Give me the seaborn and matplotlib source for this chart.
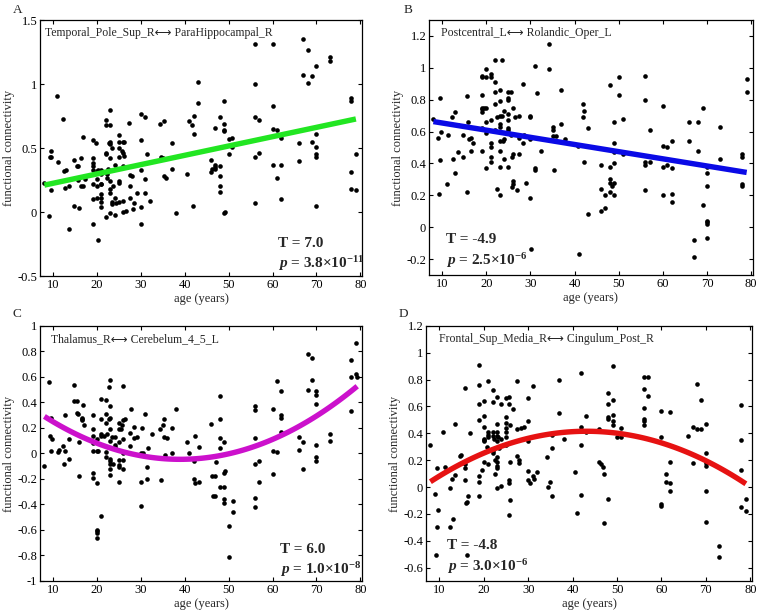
import numpy as np
import pandas as pd
import matplotlib
matplotlib.use("Agg")
import matplotlib.pyplot as plt
import seaborn as sns

# (age, functional connectivity)
pts_a = [(8, 0.23), (9, -0.03), (9.3, 0.43), (9.5, 0.43), (9.5, 0.48), (9.5, 0.17),
         (10.8, 0.91), (11, 0.39), (12.2, 0.73), (12.5, 0.32), (13, 0.33), (12.8, 0.19),
         (13.5, 0.2), (13.5, -0.13), (14.7, 0.41), (14.8, 0.05), (15.5, 0.36), (15.7, 0.36),
         (15.7, 0.25), (15.8, 0.03), (16.3, 0.42), (16.3, 0.2), (16.8, 0.2), (16.9, 0.59),
         (17.2, 0.26), (19, 0.56), (19, 0.42), (19, 0.38), (19, 0.36), (19, 0.33), (19, 0.22),
         (19, 0.1), (19, -0.09), (19.7, 0.54), (20, 0.32), (20, 0.26), (20, 0.2), (20, 0.11),
         (20.2, -0.22), (20.3, 0.33), (21, 0.33), (21, 0.3), (21, 0.22), (21, 0.14), (21, 0.11),
         (21, 0.08), (21, 0.04), (20.8, 0.22), (22, 0.72), (22, 0.68), (22, 0.46), (22, 0.45),
         (22.3, 0.3), (22.2, 0.27), (22, -0.04), (22.5, 0.34), (22.8, 0.54), (23, 0.8),
         (23, 0.68), (23, 0.55), (23, 0.53), (23, 0.42), (23, 0.24), (23, 0.18), (23, 0.15),
         (23, -0.01), (23.3, 0.5), (23.3, 0.08), (23.5, 0.06), (23.6, 0.2), (24, 0.37),
         (24, 0.11), (24, -0.02), (24.3, 0.07), (25, 0.6), (25, 0.55), (25, 0.5), (25, 0.43),
         (25, 0.24), (25, 0.23), (25, 0.08), (25.8, 0.48), (25.9, 0.55), (26, 0.46), (26, 0.36),
         (26, 0.0), (26, 0.09), (26.2, 0.55), (26.5, 0.01), (26.2, 0.44), (27.3, 0.7),
         (27.5, 0.29), (27.5, 0.2), (27.5, 0.11), (28, 0.28), (28.2, 0.02), (28.5, 0.07),
         (29, 0.15), (30, 0.77), (30, 0.56), (30, 0.33), (30, 0.04), (30, -0.09), (31, 0.74),
         (31, 0.26), (31, 0.15), (31.5, 0.45), (32, 0.09), (34.3, 0.69), (34.5, 0.43),
         (35, 0.42), (35.3, 0.71), (35.3, 0.28), (35.8, 0.27), (37, 0.54), (37, 0.34),
         (38, -0.01), (40.5, 0.3), (41, 0.71), (41.7, 0.68), (42, 0.75), (42, 0.61),
         (41.8, 0.05), (43, 1.02), (43, 0.85), (46, 0.41), (46, 0.31), (46.3, 0.34),
         (46.8, 0.66), (47, 0.37), (47, 0.35), (47, 0.34), (48, 0.74), (48, 0.36), (48, 0.28),
         (48, 0.2), (48, 0.16), (49, 0.87), (49, 0.69), (49, 0.64), (49, 0.63), (49, -0.01),
         (49.2, 0.0), (50, 0.57), (50, 0.45), (50.8, 0.58), (50.8, 0.51), (56, 1.31), (56, 1.0),
         (56, 0.74), (56, 0.43), (56, 0.07), (57, 0.72), (57, 0.46), (60, 1.31), (60, 0.83),
         (60, 0.65), (60, 0.37), (61, 0.64), (61, 0.27), (62, 0.58), (62, 0.37), (62, 0.1),
         (66, 0.54), (66, 0.4), (67, 1.35), (67, 1.07), (68, 1.27), (68, 1.01), (69, 1.06),
         (69, 0.55), (70, 1.14), (70, 0.61), (70, 0.51), (70, 0.45), (70, 0.43), (70, 0.05),
         (73, 1.21), (73, 1.18), (78, 0.89), (78, 0.87), (78, 0.31), (78, 0.18), (79, 0.45),
         (79, 0.17)]

pts_b = [(8, 0.68), (9, 0.56), (9.3, 0.21), (9.5, 0.81), (9.5, 0.42), (9.8, 0.6), (11, 0.27),
         (11.2, 0.58), (12.3, 0.69), (12.5, 0.43), (12.8, 0.72), (13, 0.34), (13.5, 0.47),
         (13.5, 0.64), (14.8, 0.58), (14.8, 0.44), (15.5, 0.82), (15.5, 0.22), (15.8, 0.66),
         (16, 0.55), (16.5, 0.56), (16.5, 0.48), (17, 0.53), (19, 0.95), (19, 0.94), (19, 0.83),
         (19, 0.75), (19, 0.74), (19, 0.72), (19, 0.62), (19, 0.48), (20, 0.99), (20, 0.94),
         (20, 0.75), (20, 0.66), (20, 0.59), (20, 0.37), (19.5, 0.75), (21, 0.96), (21, 0.94),
         (21, 0.67), (21, 0.53), (21, 0.5), (21, 0.44), (21, 0.41), (22, 1.05), (22, 0.91),
         (22, 0.85), (22, 0.77), (22, 0.61), (22.5, 0.69), (22.5, 0.24), (23, 0.86), (23, 0.79),
         (23, 0.7), (23, 0.65), (23, 0.63), (23, 0.54), (23, 0.48), (23, 0.38), (23.2, 0.2),
         (23.5, 1.05), (23.5, 0.7), (23.7, 0.54), (24, 0.73), (24, 0.55), (24, 0.43), (25, 0.85),
         (25, 0.81), (25, 0.8), (25, 0.71), (25, 0.67), (25, 0.62), (25, 0.61), (25, 0.38),
         (25.5, 0.85), (25.5, 0.58), (25.7, 0.44), (25.7, 0.25), (26, 0.75), (26, 0.46),
         (26, 0.29), (26, 0.27), (26.5, 0.69), (27, 0.23), (27.5, 0.7), (27.5, 0.46),
         (27.5, 0.56), (28.3, 0.9), (28.3, 0.53), (28.5, 0.58), (29, 0.28), (30, 0.7), (30, 0.69),
         (30, 0.55), (30, 0.18), (30.2, -0.14), (31, 1.01), (31, 0.37), (31, 0.36), (31.5, 0.84),
         (32.3, 0.48), (34.3, 1.15), (34.2, 0.99), (35, 0.63), (35.2, 0.61), (35.2, 0.57),
         (35.3, 0.36), (35.8, 0.57), (37, 0.86), (37, 0.65), (37.8, 0.55), (40.8, 0.51),
         (41, -0.17), (42, 0.77), (42, 0.69), (42.2, 0.73), (42.2, 0.41), (43, 0.62), (43, 0.08),
         (46, 0.39), (46, 0.24), (46, 0.1), (47, 0.2), (47, 0.12), (48, 0.89), (48, 0.38),
         (48, 0.3), (48, 0.28), (48, 0.22), (48.5, 0.26), (49, 0.66), (49, 0.53), (49, 0.47),
         (49, 0.4), (49, 0.28), (49, 0.2), (50, 0.94), (50, 0.83), (51, 0.68), (51, 0.46),
         (56, 0.95), (56, 0.8), (56, 0.41), (56, 0.39), (56, 0.23), (57, 0.61), (57, 0.41),
         (60, 0.76), (60, 0.51), (60, 0.38), (60, 0.2), (61, 0.5), (61, 0.39), (62, 0.54),
         (62, 0.37), (62, 0.21), (62, 0.16), (66, 0.66), (66, 0.54), (67, -0.08), (67, -0.19),
         (68, 0.66), (68, 0.48), (69, 0.75), (69, 0.14), (70, 0.38), (70, 0.34), (70, 0.26),
         (70, 0.04), (70, 0.03), (70, 0.02), (70, -0.07), (73, 0.63), (73, 0.43), (78, 0.46),
         (78, 0.44), (78, 0.27), (78, 0.26), (79, 0.93), (79, 0.85)]

pts_c = [(8, -0.1), (9, 0.56), (9.3, 0.14), (9.5, 0.28), (9.5, 0.02), (9.7, 0.11), (11, 0.01),
         (11.3, 0.03), (12.3, 0.06), (12.5, -0.08), (12.8, 0.3), (12.8, 0.02), (13.5, 0.11),
         (13.5, -0.04), (14.8, 0.54), (14.8, 0.41), (15.5, 0.41), (15.5, 0.32), (15.7, 0.31),
         (16, 0.09), (15.8, -0.18), (16.5, 0.27), (16.5, 0.26), (16.8, 0.38), (17, 0.22),
         (16.5, 0.28), (19, 0.3), (19, 0.19), (19, 0.14), (19, 0.08), (19, 0.02), (19, -0.15),
         (19, -0.19), (20, 0.11), (20, 0.02), (20, -0.23), (20, -0.6), (20, -0.61), (20, -0.62),
         (20, -0.66), (20.2, 0.02), (21, 0.43), (21, 0.27), (21, 0.15), (21, 0.14), (21, -0.49),
         (21.5, 0.14), (22, 0.42), (22, 0.31), (22, 0.24), (22, 0.01), (22, -0.03), (22.2, 0.15),
         (22.8, 0.52), (23, 0.58), (23, 0.37), (23, 0.28), (23, 0.19), (23, 0.1), (23, -0.04),
         (23, -0.06), (23, -0.08), (23, -0.12), (23, -0.17), (23.5, 0.13), (23.7, -0.08),
         (22.7, 0.27), (24, 0.13), (24, 0.07), (24, 0.05), (25, 0.24), (25, 0.19), (25, 0.09),
         (25, -0.05), (25, -0.09), (25, -0.11), (25, -0.22), (25.5, 0.19), (25.7, 0.22),
         (26, 0.53), (26, 0.26), (26, 0.11), (26, 0.0), (26, -0.05), (26, -0.12), (26.3, 0.27),
         (27.5, 0.16), (27.5, 0.06), (27.8, 0.35), (28.5, 0.21), (28.5, 0.12), (29, 0.13),
         (30, 0.0), (30, -0.22), (30, -0.41), (30.3, 0.2), (30.5, 0.0), (31, 0.31), (31.3, -0.11),
         (31.3, -0.2), (31.7, 0.04), (32.5, 0.15), (34.3, 0.19), (34.5, -0.21), (35, 0.22),
         (35.3, 0.27), (35.3, 0.13), (35.5, -0.01), (36, 0.12), (37, 0.2), (37, 0.0), (38, 0.35),
         (40.5, 0.09), (41, 0.0), (42, -0.06), (42, -0.2), (42.3, 0.14), (42.3, -0.23),
         (43.2, 0.05), (43.3, -0.22), (46, 0.23), (46.2, -0.18), (46.5, -0.33), (47, -0.33),
         (47, -0.18), (47.2, -0.07), (48, 0.45), (48, 0.27), (48, 0.12), (48, 0.04), (48, -0.26),
         (49, 0.09), (49, -0.15), (49.1, -0.14), (49, -0.26), (49, -0.36), (49, -0.39),
         (50, -0.57), (50, -0.81), (51, -0.37), (51, -0.46), (56, 0.37), (56, 0.34), (56, 0.12),
         (56, -0.08), (56, -0.35), (56, -0.42), (57, -0.06), (57, -0.22), (60, 0.35), (60, 0.02),
         (60, -0.16), (61, 0.57), (61, 0.01), (62, 0.49), (62, 0.3), (62, 0.28), (62, 0.17),
         (66, 0.13), (66, 0.03), (67, 0.09), (67, -0.12), (68, 0.78), (68, 0.5), (69, 0.75),
         (69, 0.58), (70, 0.49), (70, 0.46), (70, 0.39), (70, 0.07), (70, -0.03), (70, -0.06),
         (73, 0.15), (73, 0.1), (78, 0.73), (78, 0.6), (78, 0.33), (79, 0.87), (79, 0.62),
         (79.3, 0.6)]

pts_d = [(8, 0.31), (9, -0.05), (9.3, -0.51), (9.5, 0.14), (9.5, -0.3), (9.7, -0.17),
         (10.8, 0.41), (11.2, 0.15), (12.3, -0.01), (12.3, -0.3), (12.8, 0.06), (13, -0.24),
         (13.5, 0.47), (13.5, 0.09), (14.7, 0.23), (14.8, 0.24), (15.7, 0.74), (15.7, 0.17),
         (15.7, 0.14), (15.8, 0.05), (16, -0.12), (16.3, -0.11), (16.5, -0.07), (16.3, -0.51),
         (17, 0.4), (19, 0.91), (19, 0.76), (19, 0.62), (19, 0.5), (19, 0.08), (19, 0.04),
         (19, -0.07), (19.7, 0.13), (20, 0.64), (20, 0.53), (20, 0.45), (20, 0.36), (20, 0.35),
         (20, 0.34), (20, 0.19), (21, 0.79), (21, 0.41), (21, 0.39), (21, 0.37), (21, 0.17),
         (20.8, 0.3), (22, 0.72), (22, 0.63), (22, 0.41), (22, 0.38), (22, 0.27), (22, 0.25),
         (22.3, 0.36), (22.5, 0.2), (22.5, 0.1), (23, 0.67), (23, 0.47), (23, 0.41), (23, 0.38),
         (23, 0.34), (23, 0.22), (23, 0.19), (23, 0.16), (23, 0.14), (23, -0.01), (23.3, 0.37),
         (23.5, 0.29), (24, 0.62), (24, 0.36), (24, 0.01), (25, 0.66), (25, 0.52), (25, 0.48),
         (25, 0.44), (25, 0.41), (25, 0.37), (25, 0.31), (25.7, 0.67), (25.7, 0.62), (25.8, 0.05),
         (25.8, 0.03), (25.7, -0.21), (26, 0.19), (26, 0.46), (26, -0.1), (26.5, 0.58),
         (27.5, 0.79), (27.5, 0.43), (27.5, 0.23), (28, 0.2), (28, 0.18), (28.3, 0.44), (29, 0.45),
         (30, 0.66), (30, 0.49), (30, 0.34), (30, 0.12), (30, 0.05), (30.5, 0.03), (31, 0.75),
         (31, 0.08), (31.3, 0.06), (32, 0.11), (34.3, 0.22), (34.5, 0.0), (35, 0.04), (35.3, 0.39),
         (35.3, 0.29), (35.3, -0.07), (37, 0.8), (37, 0.55), (38, 0.36), (40.5, 0.11), (41, -0.19),
         (42, 0.85), (41.8, 0.45), (42, 0.31), (41.8, -0.06), (43, 0.53), (43, 0.41), (46, 0.19),
         (46, 0.43), (46.3, 0.17), (46.8, 0.15), (47, 0.1), (47, -0.27), (48, 0.7), (48, 0.62),
         (48, 0.52), (48, 0.51), (48, -0.09), (49, 0.9), (49, 0.65), (49, 0.54), (49, 0.49),
         (49, 0.46), (50, 0.37), (51, 0.44), (51, 0.37), (56, 0.82), (56, 0.73), (56, 0.59),
         (56, 0.51), (56, 0.49), (56, 0.46), (57, 0.82), (57, 0.68), (60, 0.57), (60, 0.37),
         (60, -0.13), (60, -0.14), (61, 0.1), (61, 0.04), (62, 0.56), (62, 0.19), (62, 0.03),
         (62, -0.03), (66, 0.38), (67, 0.45), (67, 0.18), (68, 0.77), (68, 0.43), (69, 0.65),
         (69, 0.43), (70, 0.47), (70, 0.25), (70, 0.18), (70, 0.16), (70, -0.03), (70, -0.26),
         (73, -0.44), (73, -0.52), (78, 0.61), (78, 0.35), (78, 0.13), (78, -0.15), (79, -0.09),
         (79, -0.18)]

pairs = ["Temporal_Pole_Sup_R\u27f7 ParaHippocampal_R",
         "Postcentral_L\u27f7 Rolandic_Oper_L",
         "Thalamus_R\u27f7 Cerebelum_4_5_L",
         "Frontal_Sup_Media_R\u27f7 Cingulum_Post_R"]
t_vals = ["7.0", "-4.9", "6.0", "-4.8"]
p_mant = ["3.8", "2.5", "1.0", "3.0"]
p_exp = ["-11", "-6", "-8", "-6"]
letters = ["A", "B", "C", "D"]
fit_order = [1, 1, 2, 2]
fit_colors = ["#22e622", "#0a0ae6", "#cc11cc", "#e61212"]
ylims = [(-0.5, 1.5), (-0.3, 1.3), (-1, 1), (-0.7, 1.2)]
yticks = [np.arange(-0.5, 1.51, 0.5), np.arange(-0.2, 1.21, 0.2),
          np.arange(-1, 1.01, 0.2), np.arange(-0.6, 1.21, 0.2)]

sns.set_style("ticks")
plt.rcParams["font.family"] = ["Liberation Serif", "DejaVu Sans"]
plt.rcParams["mathtext.fontset"] = "custom"
plt.rcParams["mathtext.rm"] = "Liberation Serif:bold"
plt.rcParams["mathtext.it"] = "Liberation Serif:italic:bold"
plt.rcParams["axes.unicode_minus"] = False

fig = plt.figure(figsize=(7.62, 6.12), dpi=100)
boxes = [[0.0525, 0.549, 0.4226, 0.418], [0.563, 0.5507, 0.425, 0.4167],
         [0.0525, 0.0507, 0.4226, 0.4167], [0.559, 0.0507, 0.428, 0.4167]]
# where the T/p text sits (axes fraction)
stat_pos = [(0.74, 0.128), (0.052, 0.138), (0.745, 0.125), (0.066, 0.138)]
label_pos = [0.016, 0.036, 0.033, 0.041]
letter_pos = [(0.017, 0.993), (0.530, 0.993), (0.017, 0.496), (0.523, 0.496)]

for i, pts in enumerate([pts_a, pts_b, pts_c, pts_d]):
    df = pd.DataFrame(pts, columns=["age", "fc"])
    ax = fig.add_axes(boxes[i])
    sns.regplot(data=df, x="age", y="fc", order=fit_order[i], ci=None, ax=ax,
                scatter_kws=dict(s=11, color="black", linewidths=0, alpha=1),
                line_kws=dict(color=fit_colors[i], lw=3.9, solid_capstyle="butt"))
    ax.set_xlim(7, 80.4)
    ax.set_ylim(*ylims[i])
    ax.set_xticks(range(10, 81, 10))
    ticks = np.round(yticks[i], 2) + 0.0
    ax.set_yticks(ticks)
    ax.set_yticklabels(["%g" % v if abs(v) > 1e-9 else "0" for v in ticks])
    ax.tick_params(direction="in", top=True, right=True, length=3, width=0.8,
                   labelsize=9, pad=2, colors="black")
    for sp in ax.spines.values():
        sp.set_linewidth(0.9)
        sp.set_color("black")
    ax.set_xlabel("age (years)", fontsize=9, labelpad=1.5)
    ax.set_ylabel("functional connectivity", fontsize=9, labelpad=2)
    ax.text(label_pos[i], 0.948, pairs[i], transform=ax.transAxes, fontsize=8.5,
            va="center", ha="left")
    sx, sy = stat_pos[i]
    ax.text(sx, sy, "T = " + t_vals[i], transform=ax.transAxes, fontsize=11,
            fontweight="bold", va="center")
    ax.text(sx, sy - 0.08, r"$p$ = " + p_mant[i] + "\u00d710$^{" + p_exp[i] + "}$",
            transform=ax.transAxes, fontsize=11, fontweight="bold", va="center")
    fig.text(letter_pos[i][0], letter_pos[i][1], letters[i], fontsize=9.5,
             ha="left", va="top")

fig.savefig("out.png", dpi=100)
